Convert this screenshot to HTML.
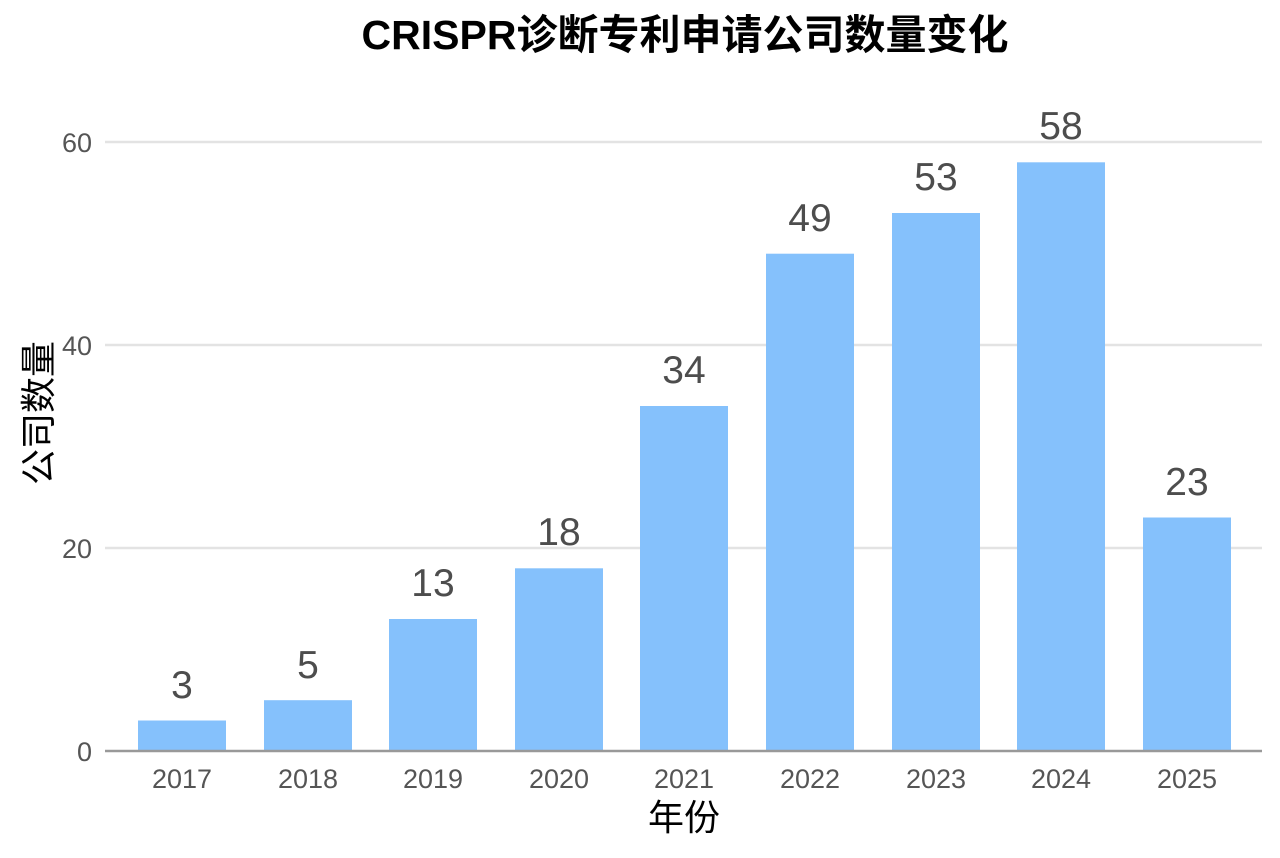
<!DOCTYPE html>
<html><head><meta charset="utf-8"><style>
html,body{margin:0;padding:0;background:#fff;}
svg text{font-family:"Liberation Sans","Noto Sans CJK SC",sans-serif;}
</style></head><body>
<svg width="1280" height="853" viewBox="0 0 1280 853" xmlns="http://www.w3.org/2000/svg">
<rect width="1280" height="853" fill="#fff"/>
<text x="685" y="49" text-anchor="middle" font-size="41" font-weight="bold" fill="#000">CRISPR诊断专利申请公司数量变化</text>
<g stroke="#e3e3e3" stroke-width="2.5">
<line x1="105" x2="1262" y1="142" y2="142"/>
<line x1="105" x2="1262" y1="345" y2="345"/>
<line x1="105" x2="1262" y1="548" y2="548"/>
</g>
<g fill="#85c1fc">
<rect x="138" y="720.5" width="88" height="30.5"/>
<rect x="264" y="700.2" width="88" height="50.8"/>
<rect x="389" y="619" width="88" height="132"/>
<rect x="515" y="568.3" width="88" height="182.7"/>
<rect x="640" y="406" width="88" height="345"/>
<rect x="766" y="253.7" width="88" height="497.3"/>
<rect x="892" y="213" width="88" height="538"/>
<rect x="1017" y="162.3" width="88" height="588.7"/>
<rect x="1143" y="517.5" width="88" height="233.5"/>
</g>
<line x1="105" x2="1262" y1="751" y2="751" stroke="#999" stroke-width="2.5"/>
<g font-size="39" fill="#4d4d4d" text-anchor="middle">
<text x="182" y="698">3</text>
<text x="308" y="678">5</text>
<text x="433" y="596">13</text>
<text x="559" y="545">18</text>
<text x="684" y="383">34</text>
<text x="810" y="231">49</text>
<text x="936" y="190">53</text>
<text x="1061" y="139">58</text>
<text x="1187" y="495">23</text>
</g>
<g font-size="27" fill="#555" text-anchor="end">
<text x="92" y="761">0</text>
<text x="92" y="558">20</text>
<text x="92" y="355">40</text>
<text x="92" y="152">60</text>
</g>
<g font-size="27" fill="#555" text-anchor="middle">
<text x="182" y="788">2017</text>
<text x="308" y="788">2018</text>
<text x="433" y="788">2019</text>
<text x="559" y="788">2020</text>
<text x="684" y="788">2021</text>
<text x="810" y="788">2022</text>
<text x="936" y="788">2023</text>
<text x="1061" y="788">2024</text>
<text x="1187" y="788">2025</text>
</g>
<text x="684" y="830" text-anchor="middle" font-size="36" fill="#000">年份</text>
<text transform="translate(51,413) rotate(-90)" text-anchor="middle" font-size="36" fill="#000">公司数量</text>
</svg>
</body></html>
